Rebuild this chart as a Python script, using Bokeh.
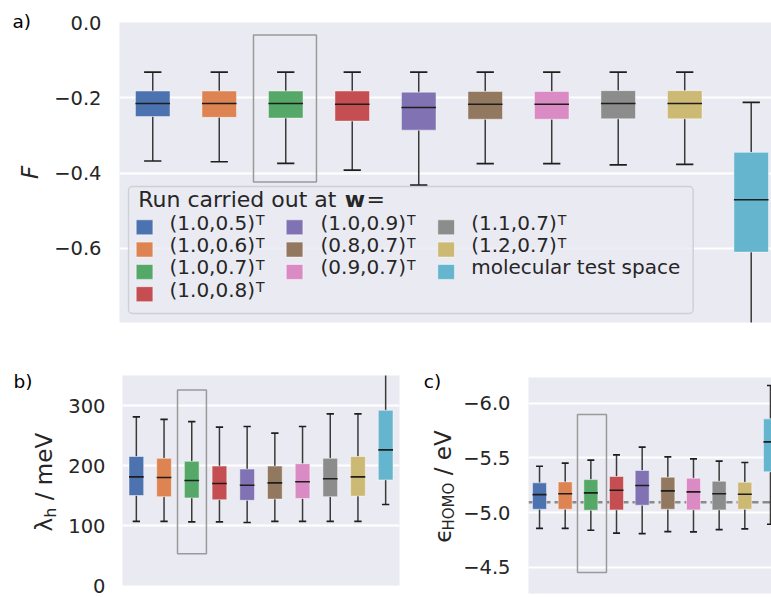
import numpy as np
from bokeh.plotting import figure
from bokeh.layouts import column, row
from bokeh.models import (Range1d, FixedTicker, CustomJSTickFormatter, Label,
                          BoxAnnotation, Span)
from bokeh.embed import file_html
from bokeh.resources import INLINE

# ---------------- data ----------------
runs = ["(1.0,0.5)", "(1.0,0.6)", "(1.0,0.7)", "(1.0,0.8)", "(1.0,0.9)",
        "(0.8,0.7)", "(0.9,0.7)", "(1.1,0.7)", "(1.2,0.7)", "molecular test space"]
colors = ["#4C72B0", "#DD8452", "#55A868", "#C44E52", "#8172B3",
          "#937860", "#DA8BC3", "#8C8C8C", "#CCB974", "#64B5CD"]
highlight_run = 2

# panel a) F
F_lo  = [-0.368, -0.370, -0.374, -0.392, -0.432, -0.375, -0.375, -0.378, -0.377, -0.86]
F_q1  = [-0.250, -0.252, -0.254, -0.262, -0.286, -0.257, -0.257, -0.256, -0.256, -0.610]
F_med = [-0.215, -0.215, -0.215, -0.217, -0.226, -0.217, -0.217, -0.215, -0.215, -0.471]
F_q3  = [-0.182, -0.182, -0.182, -0.182, -0.185, -0.183, -0.183, -0.181, -0.181, -0.345]
F_hi  = [-0.132, -0.132, -0.132, -0.132, -0.132, -0.132, -0.132, -0.132, -0.132, -0.212]
F_ticks = [0.0, -0.2, -0.4, -0.6]
F_highlight = (-0.424, -0.033)

# panel b) lambda_h / meV
L_lo  = [107, 107, 106, 106, 105, 107, 107, 107, 107, 135]
L_q1  = [150, 148, 146, 143, 142, 144, 145, 148, 149, 176]
L_med = [181, 180, 175, 170, 167, 171, 173, 178, 181, 226]
L_q3  = [215, 212, 207, 199, 194, 199, 203, 212, 215, 292]
L_hi  = [281, 277, 273, 264, 265, 254, 265, 286, 286, 380]
L_ticks = [0, 100, 200, 300]
L_highlight = (52.8, 326)

# panel c) eps_HOMO / eV
E_lo  = [-4.857, -4.857, -4.839, -4.812, -4.809, -4.827, -4.824, -4.845, -4.851, -4.894]
E_q1  = [-5.031, -5.031, -5.022, -5.025, -5.068, -5.031, -5.025, -5.025, -5.031, -5.373]
E_med = [-5.165, -5.172, -5.181, -5.205, -5.248, -5.199, -5.190, -5.172, -5.168, -5.647]
E_q3  = [-5.272, -5.281, -5.302, -5.330, -5.385, -5.324, -5.315, -5.287, -5.278, -5.857]
E_hi  = [-5.424, -5.452, -5.479, -5.528, -5.598, -5.510, -5.492, -5.470, -5.458, -6.162]
E_ticks = [-6.0, -5.5, -5.0, -4.5]
E_reference = -5.095
E_highlight = (-4.453, -5.897)

# ---------------- style ----------------
FONT = "DejaVu Sans"
INK = "#262626"
BG = "#EAEAF2"
WHISK = "#3a3a3a"
CAP = "#1e1e1e"
MED = "#1e1e1e"
HL = "#9a9a9a"

fmt1 = CustomJSTickFormatter(code="""
  return (tick < -1e-9 ? "\\u2212" : "") + Math.abs(tick).toFixed(1);
""")
fmt0 = CustomJSTickFormatter(code="return tick.toFixed(0);")


def make_fig(fw, fh, bl, br, bt, bb, xr, yr, ticks, fmt, standoff):
    p = figure(frame_width=fw, frame_height=fh, min_border_left=bl,
               min_border_right=br, min_border_top=bt, min_border_bottom=bb,
               x_range=xr, y_range=yr, x_axis_type=None, title=None,
               output_backend="svg", toolbar_location=None, tools="")
    p.frame_align = False
    p.background_fill_color = BG
    p.border_fill_color = "white"
    p.outline_line_color = None
    ax = p.yaxis[0]
    ax.ticker = FixedTicker(ticks=ticks)
    ax.formatter = fmt
    ax.axis_line_color = None
    ax.major_tick_line_color = None
    ax.minor_tick_line_color = None
    ax.major_tick_out = 0
    ax.major_tick_in = 0
    ax.major_label_standoff = standoff
    ax.major_label_text_font = FONT
    ax.major_label_text_font_size = "19.5px"
    ax.major_label_text_color = INK
    p.ygrid.grid_line_color = "white"
    p.ygrid.grid_line_width = 1.8
    p.ygrid.ticker = FixedTicker(ticks=ticks)
    return p


def make_label_fig(w, h):
    p = figure(width=w, height=h, min_border=0, x_range=Range1d(0, 1),
               y_range=Range1d(0, 1), x_axis_type=None, y_axis_type=None,
               title=None, output_backend="svg", toolbar_location=None, tools="")
    p.frame_align = False
    p.outline_line_color = None
    p.background_fill_color = "white"
    p.border_fill_color = "white"
    return p


def draw_boxes(p, lo, q1, med, q3, hi, width):
    x = np.arange(len(runs), dtype=float)
    lo, q1, med, q3, hi = (np.asarray(v, dtype=float) for v in (lo, q1, med, q3, hi))
    p.segment(x, q3, x, hi, line_color=WHISK, line_width=1.5)
    p.segment(x, q1, x, lo, line_color=WHISK, line_width=1.5)
    p.vbar(x=x, width=width, bottom=q1, top=q3, fill_color=colors,
           line_color="white", line_alpha=0.45, line_width=1)
    p.segment(x - width / 2, med, x + width / 2, med, line_color=MED, line_width=1.6)
    cw = width / 4
    p.segment(x - cw, hi, x + cw, hi, line_color=CAP, line_width=1.7)
    p.segment(x - cw, lo, x + cw, lo, line_color=CAP, line_width=1.7)


def draw_highlight(p, half, yext):
    p.quad(left=[highlight_run - half[0]], right=[highlight_run + half[1]],
           bottom=[yext[0]], top=[yext[1]], fill_color=None,
           line_color=HL, line_width=1.5)


def make_text(ox, oy):
    # ox: page x of the frame's left edge, oy: page y of the frame's bottom edge
    def txt(p, px, py, s, size, color=INK, **kw):
        p.add_layout(Label(x=px - ox, y=oy - py, x_units="screen", y_units="screen",
                           text=s, text_font=FONT, text_font_size=f"{size}px",
                           text_color=color, **kw))
    return txt


ROT = np.pi / 2

# ---------------- panel a ----------------
LA_W = 50
la = make_label_fig(LA_W, 350)
pa = make_fig(652, 300, 119 - LA_W, 0, 22, 28, Range1d(-0.5, 9.305),
              Range1d(-0.797, 0.0), F_ticks, fmt1, 18)
draw_boxes(pa, F_lo, F_q1, F_med, F_q3, F_hi, 0.52)
draw_highlight(pa, (0.485, 0.462), F_highlight)
tla = make_text(0, 350)
tla(la, 12, 31.5, "a)", 18.5, color="black")
tla(la, 42.3, 172, "F", 23, angle=ROT, text_align="center", text_font_style="italic")

# legend (drawn by hand so that the bold w and the superscripts match)
oxa, oya = 119, 322
ta = make_text(oxa, oya)
pa.add_layout(BoxAnnotation(left=128 - oxa, right=692.7 - oxa, top=oya - 186,
                            bottom=oya - 313, left_units="screen", right_units="screen",
                            top_units="screen", bottom_units="screen",
                            fill_color=BG, fill_alpha=0.8, line_color="#cfcfd6",
                            line_alpha=1.0, line_width=1.4, border_radius=4))
ta(pa, 137.7, 211, "Run carried out at ", 22)
ta(pa, 344.3, 211, "w", 22, text_font_style="bold")
ta(pa, 366.0, 211, "=", 22)
col_of = [0, 0, 0, 0, 1, 1, 1, 2, 2, 2]
row_of = [0, 1, 2, 3, 0, 1, 2, 0, 1, 2]
sw_left = [135.7, 285.7, 437.3]
lab_left = [169.0, 320.0, 470.7]
row_base = [234.3, 256.6, 278.9, 301.2]
for i, name in enumerate(runs):
    c, r = col_of[i], row_of[i]
    b = row_base[r]
    pa.add_layout(BoxAnnotation(left=sw_left[c] - oxa, right=sw_left[c] + 16.7 - oxa,
                                top=oya - (b - 15), bottom=oya - b,
                                left_units="screen", right_units="screen",
                                top_units="screen", bottom_units="screen",
                                fill_color=colors[i], fill_alpha=1.0,
                                line_color="white", line_alpha=0.5, line_width=1))
    ta(pa, lab_left[c], b, name, 20)
    if i < len(runs) - 1:
        ta(pa, lab_left[c] + 4.278 * 20 + 1.0, b - 6.6, "T", 14)

# ---------------- panel b ----------------
LB_W = 60
BOT_H = 247
lb = make_label_fig(LB_W, BOT_H)
pb = make_fig(277, 210, 122 - LB_W, 1, 25, 12, Range1d(-0.5, 9.5),
              Range1d(0, 350), L_ticks, fmt0, 17)
draw_boxes(pb, L_lo, L_q1, L_med, L_q3, L_hi, 0.53)
draw_highlight(pb, (0.514, 0.53), L_highlight)
tlb = make_text(0, 350 + BOT_H)
tlb(lb, 13, 391, "b)", 18.5, color="black")
tlb(lb, 56.5, 531, "λ", 23, angle=ROT)
tlb(lb, 59.0, 517.2, "h", 16, angle=ROT)
tlb(lb, 56.5, 499.7, "/ meV", 23, angle=ROT)

# ---------------- panel c ----------------
LC_X = 400
LC_W = 60
lc = make_label_fig(LC_W, BOT_H)
pc = make_fig(243, 216, 528 - LC_X - LC_W, 0, 27, 4, Range1d(-0.43, 9.04),
              Range1d(-4.261, -6.235), E_ticks, fmt1, 18)
pc.add_layout(Span(location=E_reference, dimension="width", line_color="#8a8a8a",
                   line_width=2.6, line_dash="9 4", level="underlay"))
draw_boxes(pc, E_lo, E_q1, E_med, E_q3, E_hi, 0.545)
draw_highlight(pc, (0.521, 0.609), E_highlight)
tlc = make_text(LC_X, 350 + BOT_H)
tlc(lc, 423.3, 391, "c)", 18.5, color="black")
tlc(lc, 455, 542.3, "ϵ", 23, angle=ROT)
tlc(lc, 457.5, 530, "HOMO", 15, angle=ROT)
tlc(lc, 455, 474.7, "/ eV", 23, angle=ROT)

layout = column(row(la, pa), row(lb, pb, lc, pc))
open("out.html", "w").write(file_html(layout, INLINE))
